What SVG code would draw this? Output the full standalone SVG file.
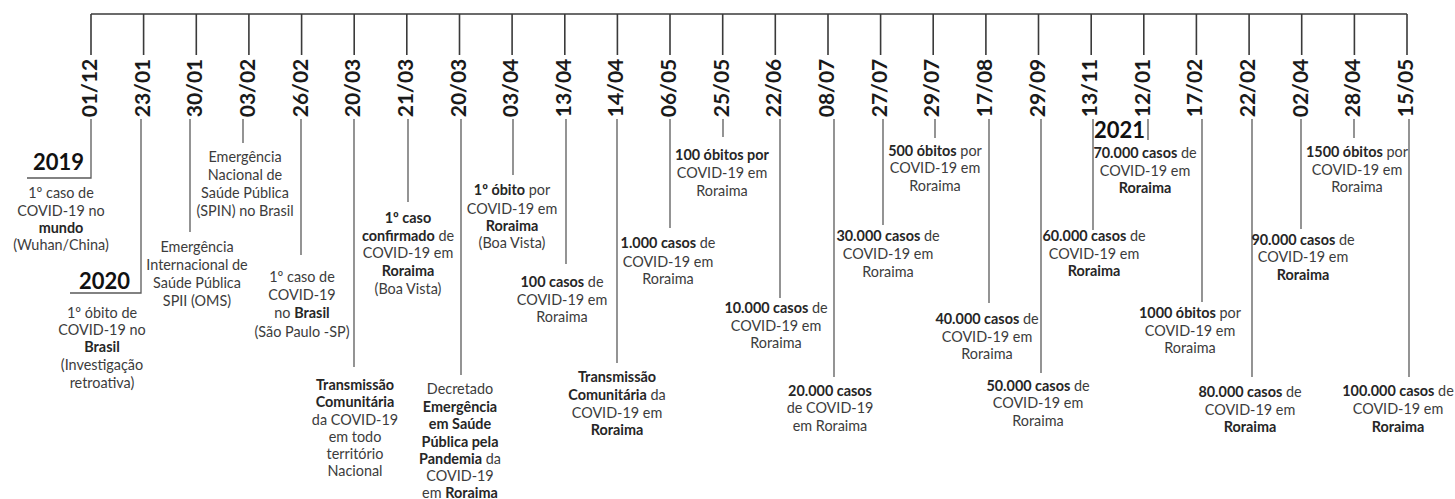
<svg xmlns="http://www.w3.org/2000/svg" width="1455" height="499" viewBox="0 0 1455 499">
<style>
.bg{fill:#ffffff}
.ln{stroke:#3a3a3a;stroke-width:1.6;fill:none}
.lw{stroke:#5a5a5a;stroke-width:1.3;fill:none}
.d{font-family:Lato,"Open Sans",sans-serif;font-weight:700;font-size:21px;fill:#1a1a1a;text-anchor:middle}
.y{font-family:Lato,"Open Sans",sans-serif;font-weight:700;font-size:22px;fill:#111;text-anchor:end}
.t{font-family:Lato,"Open Sans",sans-serif;font-size:14.4px;fill:#3c3c3c;text-anchor:middle}
.b{font-weight:700;fill:#262626}
</style>
<rect class="bg" x="0" y="0" width="1455" height="499"/>
<g id="connectors">
<path class="ln" d="M91 14H1407"/>
<path class="ln" d="M91 14V55M143.6 14V55M196.3 14V55M248.9 14V55M301.6 14V55M354.2 14V55M406.8 14V55M459.5 14V55M512.1 14V55M564.8 14V55M617.4 14V55M670 14V55M722.7 14V55M775.3 14V55M828 14V55M880.6 14V55M933.2 14V55M985.9 14V55M1038.5 14V55M1091.2 14V55M1143.8 14V55M1196.4 14V55M1249.1 14V55M1301.7 14V55M1354.4 14V55M1407 14V55"/>
</g>
<g id="n01">
<text class="d" transform="translate(97,88) rotate(-90)">01/12</text>
<path class="lw" d="M91 119V178H27"/>
<text class="y" x="84" y="170">2019</text>
<text class="t" x="61" y="198">1º caso de</text>
<text class="t" x="61" y="216">COVID-19 no</text>
<text class="t" x="61" y="233"><tspan class="b">mundo</tspan></text>
<text class="t" x="61" y="250">(Wuhan/China)</text>
</g>
<g id="n02">
<text class="d" transform="translate(149.6,88) rotate(-90)">23/01</text>
<path class="lw" d="M141 119V293H70"/>
<text class="y" x="130" y="289">2020</text>
<text class="t" x="102" y="318">1º óbito de</text>
<text class="t" x="102" y="335">COVID-19 no</text>
<text class="t" x="102" y="352"><tspan class="b">Brasil</tspan></text>
<text class="t" x="102" y="370">(Investigação</text>
<text class="t" x="102" y="388">retroativa)</text>
</g>
<g id="n03">
<text class="d" transform="translate(202.3,88) rotate(-90)">30/01</text>
<path class="lw" d="M190 119V232"/>
<text class="t" x="197" y="252">Emergência</text>
<text class="t" x="197" y="270">Internacional de</text>
<text class="t" x="197" y="288">Saúde Pública</text>
<text class="t" x="197" y="306">SPII (OMS)</text>
</g>
<g id="n04">
<text class="d" transform="translate(254.9,88) rotate(-90)">03/02</text>
<path class="lw" d="M243 119V143"/>
<text class="t" x="245" y="162">Emergência</text>
<text class="t" x="245" y="180">Nacional de</text>
<text class="t" x="245" y="198">Saúde Pública</text>
<text class="t" x="245" y="216">(SPIN) no Brasil</text>
</g>
<g id="n05">
<text class="d" transform="translate(307.6,88) rotate(-90)">26/02</text>
<path class="lw" d="M301 119V255"/>
<text class="t" x="302" y="282">1º caso de</text>
<text class="t" x="302" y="300">COVID-19</text>
<text class="t" x="302" y="318">no <tspan class="b">Brasil</tspan></text>
<text class="t" x="302" y="337">(São Paulo -SP)</text>
</g>
<g id="n06">
<text class="d" transform="translate(360.2,88) rotate(-90)">20/03</text>
<path class="lw" d="M354 119V367"/>
<text class="t" x="355" y="390"><tspan class="b">Transmissão</tspan></text>
<text class="t" x="355" y="407"><tspan class="b">Comunitária</tspan></text>
<text class="t" x="355" y="425">da COVID-19</text>
<text class="t" x="355" y="442">em todo</text>
<text class="t" x="355" y="459">território</text>
<text class="t" x="355" y="476">Nacional</text>
</g>
<g id="n07">
<text class="d" transform="translate(412.8,88) rotate(-90)">21/03</text>
<path class="lw" d="M408 119V202"/>
<text class="t" x="408" y="223"><tspan class="b">1º caso</tspan></text>
<text class="t" x="408" y="241"><tspan class="b">confirmado</tspan> de</text>
<text class="t" x="408" y="258">COVID-19 em</text>
<text class="t" x="408" y="276"><tspan class="b">Roraima</tspan></text>
<text class="t" x="408" y="294">(Boa Vista)</text>
</g>
<g id="n08">
<text class="d" transform="translate(465.5,88) rotate(-90)">20/03</text>
<path class="lw" d="M461 119V375"/>
<text class="t" x="460" y="394">Decretado</text>
<text class="t" x="460" y="411.5"><tspan class="b">Emergência</tspan></text>
<text class="t" x="460" y="429"><tspan class="b">em Saúde</tspan></text>
<text class="t" x="460" y="446.5"><tspan class="b">Pública pela</tspan></text>
<text class="t" x="460" y="464"><tspan class="b">Pandemia</tspan> da</text>
<text class="t" x="460" y="481">COVID-19</text>
<text class="t" x="460" y="497.5">em <tspan class="b">Roraima</tspan></text>
</g>
<g id="n09">
<text class="d" transform="translate(518.1,88) rotate(-90)">03/04</text>
<path class="lw" d="M513 119V175"/>
<text class="t" x="512" y="195"><tspan class="b">1º óbito</tspan> por</text>
<text class="t" x="512" y="214">COVID-19 em</text>
<text class="t" x="512" y="231"><tspan class="b">Roraima</tspan></text>
<text class="t" x="512" y="248">(Boa Vista)</text>
</g>
<g id="n10">
<text class="d" transform="translate(570.8,88) rotate(-90)">13/04</text>
<path class="lw" d="M566 119V264"/>
<text class="t" x="562" y="287"><tspan class="b">100 casos</tspan> de</text>
<text class="t" x="562" y="305">COVID-19 em</text>
<text class="t" x="562" y="322">Roraima</text>
</g>
<g id="n11">
<text class="d" transform="translate(623.4,88) rotate(-90)">14/04</text>
<path class="lw" d="M617 119V363"/>
<text class="t" x="617" y="382"><tspan class="b">Transmissão</tspan></text>
<text class="t" x="617" y="400"><tspan class="b">Comunitária</tspan> da</text>
<text class="t" x="617" y="418">COVID-19 em</text>
<text class="t" x="617" y="435"><tspan class="b">Roraima</tspan></text>
</g>
<g id="n12">
<text class="d" transform="translate(676,88) rotate(-90)">06/05</text>
<path class="lw" d="M670 119V228"/>
<text class="t" x="668" y="248"><tspan class="b">1.000 casos</tspan> de</text>
<text class="t" x="668" y="267">COVID-19 em</text>
<text class="t" x="668" y="284">Roraima</text>
</g>
<g id="n13">
<text class="d" transform="translate(728.7,88) rotate(-90)">25/05</text>
<path class="lw" d="M723 119V137"/>
<text class="t" x="722" y="160"><tspan class="b">100 óbitos por</tspan></text>
<text class="t" x="722" y="178">COVID-19 em</text>
<text class="t" x="722" y="196">Roraima</text>
</g>
<g id="n14">
<text class="d" transform="translate(781.3,88) rotate(-90)">22/06</text>
<path class="lw" d="M780 119V298"/>
<text class="t" x="776" y="313"><tspan class="b">10.000 casos</tspan> de</text>
<text class="t" x="776" y="331">COVID-19 em</text>
<text class="t" x="776" y="348">Roraima</text>
</g>
<g id="n15">
<text class="d" transform="translate(834,88) rotate(-90)">08/07</text>
<path class="lw" d="M834 119V377"/>
<text class="t" x="830" y="396"><tspan class="b">20.000 casos</tspan></text>
<text class="t" x="830" y="413">de COVID-19</text>
<text class="t" x="830" y="431">em Roraima</text>
</g>
<g id="n16">
<text class="d" transform="translate(886.6,88) rotate(-90)">27/07</text>
<path class="lw" d="M883 119V225"/>
<text class="t" x="888" y="241"><tspan class="b">30.000 casos</tspan> de</text>
<text class="t" x="888" y="259">COVID-19 em</text>
<text class="t" x="888" y="277">Roraima</text>
</g>
<g id="n17">
<text class="d" transform="translate(939.2,88) rotate(-90)">29/07</text>
<path class="lw" d="M935 119V138"/>
<text class="t" x="935" y="156"><tspan class="b">500 óbitos</tspan> por</text>
<text class="t" x="935" y="173">COVID-19 em</text>
<text class="t" x="935" y="191">Roraima</text>
</g>
<g id="n18">
<text class="d" transform="translate(991.9,88) rotate(-90)">17/08</text>
<path class="lw" d="M989 119V303"/>
<text class="t" x="987" y="324"><tspan class="b">40.000 casos</tspan> de</text>
<text class="t" x="987" y="342">COVID-19 em</text>
<text class="t" x="987" y="359">Roraima</text>
</g>
<g id="n19">
<text class="d" transform="translate(1044.5,88) rotate(-90)">29/09</text>
<path class="lw" d="M1041 119V373"/>
<text class="t" x="1038" y="391"><tspan class="b">50.000 casos</tspan> de</text>
<text class="t" x="1038" y="408">COVID-19 em</text>
<text class="t" x="1038" y="426">Roraima</text>
</g>
<g id="n20">
<text class="d" transform="translate(1097.2,88) rotate(-90)">13/11</text>
<path class="lw" d="M1093 119V230"/>
<text class="t" x="1094" y="241"><tspan class="b">60.000 casos</tspan> de</text>
<text class="t" x="1094" y="259">COVID-19 em</text>
<text class="t" x="1094" y="276"><tspan class="b">Roraima</tspan></text>
</g>
<g id="n21">
<text class="d" transform="translate(1149.8,88) rotate(-90)">12/01</text>
<path class="lw" d="M1148 119V140"/>
<text class="y" x="1145" y="138">2021</text>
<text class="t" x="1145" y="158"><tspan class="b">70.000 casos</tspan> de</text>
<text class="t" x="1145" y="176">COVID-19 em</text>
<text class="t" x="1145" y="193"><tspan class="b">Roraima</tspan></text>
</g>
<g id="n22">
<text class="d" transform="translate(1202.4,88) rotate(-90)">17/02</text>
<path class="lw" d="M1202 119V302"/>
<text class="t" x="1190" y="318"><tspan class="b">1000 óbitos</tspan> por</text>
<text class="t" x="1190" y="336">COVID-19 em</text>
<text class="t" x="1190" y="353">Roraima</text>
</g>
<g id="n23">
<text class="d" transform="translate(1255.1,88) rotate(-90)">22/02</text>
<path class="lw" d="M1252 119V377"/>
<text class="t" x="1250" y="397"><tspan class="b">80.000 casos</tspan> de</text>
<text class="t" x="1250" y="415">COVID-19 em</text>
<text class="t" x="1250" y="432"><tspan class="b">Roraima</tspan></text>
</g>
<g id="n24">
<text class="d" transform="translate(1307.7,88) rotate(-90)">02/04</text>
<path class="lw" d="M1301 119V229"/>
<text class="t" x="1303" y="245"><tspan class="b">90.000 casos</tspan> de</text>
<text class="t" x="1303" y="262">COVID-19 em</text>
<text class="t" x="1303" y="280"><tspan class="b">Roraima</tspan></text>
</g>
<g id="n25">
<text class="d" transform="translate(1360.4,88) rotate(-90)">28/04</text>
<path class="lw" d="M1354 119V138"/>
<text class="t" x="1357" y="157"><tspan class="b">1500 óbitos</tspan> por</text>
<text class="t" x="1357" y="175">COVID-19 em</text>
<text class="t" x="1357" y="192">Roraima</text>
</g>
<g id="n26">
<text class="d" transform="translate(1413,88) rotate(-90)">15/05</text>
<path class="lw" d="M1409 119V377"/>
<text class="t" x="1398" y="396"><tspan class="b">100.000 casos</tspan> de</text>
<text class="t" x="1398" y="414">COVID-19 em</text>
<text class="t" x="1398" y="432"><tspan class="b">Roraima</tspan></text>
</g>
</svg>
